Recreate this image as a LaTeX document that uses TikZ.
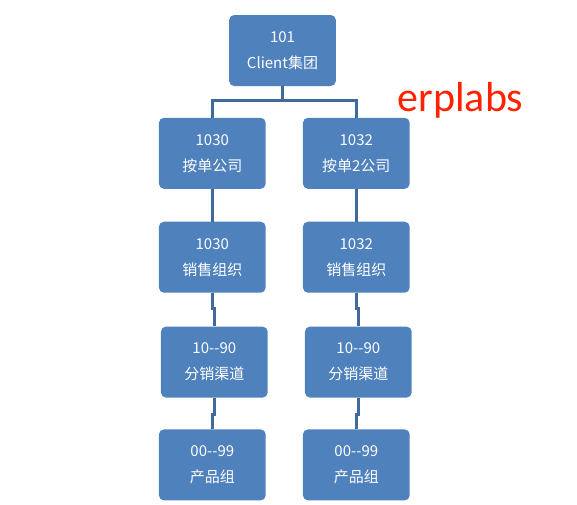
\documentclass[tikz,border=0pt]{standalone}
\usepackage{fontspec}
\setmainfont{Carlito}
\newfontfamily\cjk{Noto Sans CJK SC}
\usepackage{tikz}
\usetikzlibrary{positioning,calc}
\definecolor{boxblue}{HTML}{4F81BD}
\definecolor{lineblue}{HTML}{41699A}
\definecolor{markred}{HTML}{FF2200}
\tikzstyle{orgunit}=[fill=boxblue, rounded corners=5pt, minimum width=106.7pt,
minimum height=71pt, inner sep=0pt, text=white, align=center,
font=\cjk\fontsize{15}{26}\selectfont]
\tikzstyle{line} = [draw, line width=3pt, color=lineblue]
\newcommand{\orgbox}[2]{node (p#1)[orgunit]{#2}}

\begin{document}
\begin{tikzpicture}[x=1pt,y=-1pt]
		\useasboundingbox (0,0) rectangle (577,504);
		
		% Draw diagram elements
		\path (282.5,50.5) \orgbox{1}{101\\Client集团};
		\path (212.3,153.3) \orgbox{2}{1030\\按单公司};
		\path (356.3,153.3) \orgbox{3}{1032\\按单2公司};
		
		\path (p2.south)+(0,68.2) \orgbox{4}{1030\\销售组织};
		\path (p3.south)+(0,68.2) \orgbox{5}{1032\\销售组织};
		\path (p4.south)+(2,69.2) \orgbox{6}{10-{}-90\\分销渠道};
		\path (p5.south)+(2,69.2) \orgbox{7}{10-{}-90\\分销渠道};
		\path (p6.south)+(-2,67.1) \orgbox{8}{00-{}-99\\产品组};
		\path (p7.south)+(-2,67.1) \orgbox{9}{00-{}-99\\产品组};
		
		\node (mark)[anchor=base, text=markred, font=\fontsize{42}{42}\selectfont]
		at (460.5,111.7) {erplabs};
		
		% Draw lines between elements
		\path [line] (p1.south) -- ++(0,14) -| (p2.north);
		\path [line] (p1.south) -- ++(0,14) -| (p3.north);
		\path [line] (p2.south) -- (p4.north);
		\path [line] (p3.south) -- (p5.north);
		\path [line] (p4.south) -- ++(0,15.2) -| (p6.north);
		\path [line] (p5.south) -- ++(0,15.2) -| (p7.north);
		\path [line] (p6.south) -- ++(0,16.8) -| (p8.north);
		\path [line] (p7.south) -- ++(0,16.8) -| (p9.north);
\end{tikzpicture}
\end{document}
